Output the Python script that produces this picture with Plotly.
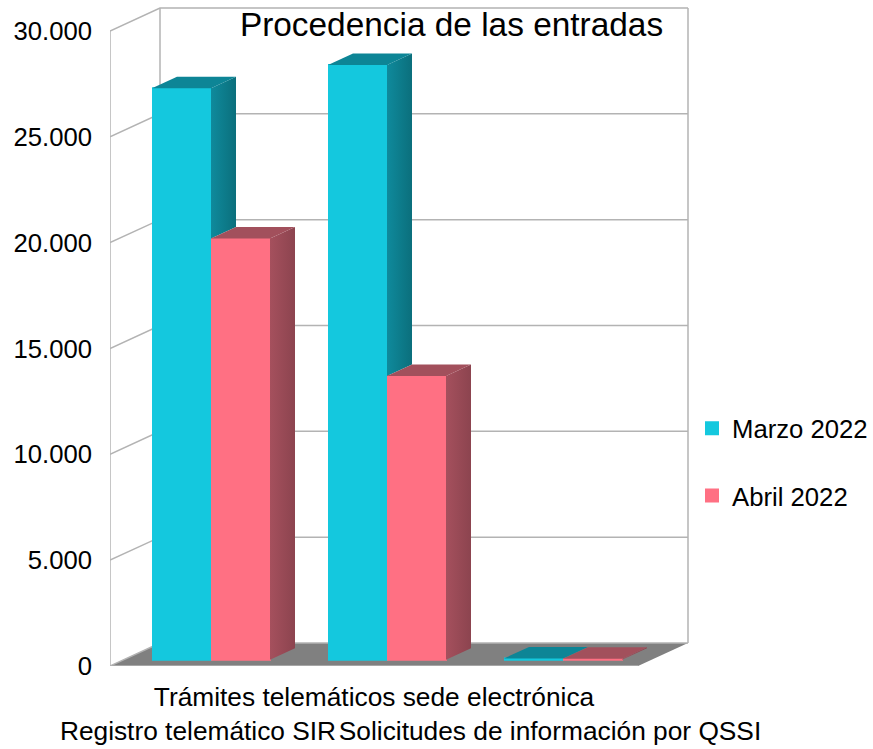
import plotly.graph_objects as go

categories = ["Registro telemático SIR", "Trámites telemáticos sede electrónica", "Solicitudes de información por QSSI"]
marzo = [27000, 28100, 60]
abril = [19900, 13400, 45]
y_ticks = [0, 5000, 10000, 15000, 20000, 25000, 30000]

W, H = 873, 749
L, R, T, B = 110, 690, 0, 666
CAT_PX = 176             # px per category
VAL_PX = 635 / 30000     # px per unit of value
px_x = lambda p: p / CAT_PX
px_y = lambda p: p / VAL_PX

WALL_DX, WALL_DY = px_x(50), px_y(23)
BAR_DX, BAR_DY = px_x(25), px_y(11.5)
BASE = px_y(6.3)
SLOT = px_x(59)
LEFT = px_x(42) - 0.5
STROKE = px_x(1)
X0, X1 = -0.5, 2.5
Y_TOP = 30000

CYAN, PINK = "#14c8de", "#ff7083"
TEAL_TOP, ROSE_TOP = "#0d8596", "#a2505c"
TEAL_SIDE = [[0, "#0f8a9c"], [1, "#0b6f7c"]]
ROSE_SIDE = [[0, "#a5505d"], [1, "#8c444f"]]
WALL_LINE = "#b3b3b3"


def poly(xs, ys, color=None, gradient=None, over=True):
    kw = dict(fillcolor=color) if color else dict(fillgradient=dict(type="horizontal", colorscale=gradient))
    if over:
        kw.update(xaxis="x2", yaxis="y2")
    return go.Scatter(x=xs, y=ys, mode="lines", fill="toself", line=dict(width=0),
                      showlegend=False, hoverinfo="skip", cliponaxis=False, **kw)


fig = go.Figure()

# floor
fig.add_trace(poly([X0, X0 + WALL_DX, X1 + WALL_DX, X1], [0, WALL_DY, WALL_DY, 0], color="#808080", over=False))

# walls and grid
gx, gy = [], []
for v in y_ticks:
    gx += [X0, X0 + WALL_DX, X1 + WALL_DX, None]
    gy += [v, v + WALL_DY, v + WALL_DY, None]
gx += [X0, X0, None, X0 + WALL_DX, X0 + WALL_DX, None, X1 + WALL_DX, X1 + WALL_DX, None, X0, X1]
gy += [0, Y_TOP, None, WALL_DY, Y_TOP + WALL_DY, None, WALL_DY, Y_TOP + WALL_DY, None, 0, 0]
fig.add_trace(go.Scatter(x=gx, y=gy, mode="lines", line=dict(color=WALL_LINE, width=1.5),
                         showlegend=False, hoverinfo="skip", cliponaxis=False))

# front faces
idx = list(range(len(categories)))
for name, vals, col, off in [("Marzo 2022", marzo, CYAN, LEFT), ("Abril 2022", abril, PINK, LEFT + SLOT)]:
    fig.add_trace(go.Bar(x=idx, y=vals, base=BASE, name=name, legendgroup=name,
                         width=SLOT - STROKE, offset=off + STROKE, xaxis="x2", yaxis="y2",
                         marker=dict(color=col, line=dict(color=col, width=2))))

# side and top faces, back to front
for i in idx:
    for vals, low, off, top_c, side_c in [
        (marzo, abril[i], LEFT, TEAL_TOP, TEAL_SIDE),
        (abril, 0, LEFT + SLOT, ROSE_TOP, ROSE_SIDE),
    ]:
        xa = i + off
        xb = xa + SLOT
        yt = BASE + vals[i]
        yb = BASE + min(low, vals[i])
        fig.add_trace(poly([xb, xb + BAR_DX, xb + BAR_DX, xb],
                           [yb, yb + BAR_DY, yt + BAR_DY, yt], gradient=side_c))
        fig.add_trace(poly([xa, xa + BAR_DX, xb + BAR_DX, xb],
                           [yt, yt + BAR_DY, yt + BAR_DY, yt], color=top_c))

# staggered category labels
labels = [c if i % 2 else "<br>" + c for i, c in enumerate(categories)]
labels[1] = categories[1] + "<br> "

FONT = "Liberation Sans"
x_range = [X0, X0 + px_x(R - L)]
y_range = [0, px_y(B - T)]
fig.update_layout(
    width=W, height=H, autosize=False,
    margin=dict(l=L, r=W - R, t=T, b=H - B, autoexpand=False),
    paper_bgcolor="white", plot_bgcolor="rgba(0,0,0,0)",
    barmode="overlay", separators=",.",
    font=dict(family=FONT, size=25.7, color="#000000"),
    title=dict(text="Procedencia de las entradas", x=451.5 / W, xanchor="center", xref="container",
               y=1 - 24 / H, yanchor="middle", yref="container", font=dict(size=33.4, family=FONT),
               pad=dict(t=0, b=0, l=0, r=0)),
    xaxis=dict(range=x_range, tickmode="array", tickvals=idx, ticktext=labels,
               showgrid=False, zeroline=False, showline=False, ticks="", tickangle=0,
               ticklabelstandoff=13, tickfont=dict(size=26.3, family=FONT),
               automargin=False, fixedrange=True),
    yaxis=dict(range=y_range, tickmode="array", tickvals=y_ticks, tickformat=",d",
               showgrid=False, zeroline=False, showline=False, ticks="", ticklabelstandoff=17,
               automargin=False, fixedrange=True),
    xaxis2=dict(range=x_range, overlaying="x", visible=False, fixedrange=True),
    yaxis2=dict(range=y_range, overlaying="y", visible=False, fixedrange=True),
    legend=dict(x=(692 - L) / (R - L), xanchor="left", y=(B - 405) / (B - T), yanchor="top",
                traceorder="grouped", tracegroupgap=31, itemclick=False, itemdoubleclick=False,
                bgcolor="rgba(0,0,0,0)", font=dict(size=25.7, family=FONT)),
)

fig.write_html("out.html", post_script="document.body.style.margin='0';",
               config={"displayModeBar": False})
